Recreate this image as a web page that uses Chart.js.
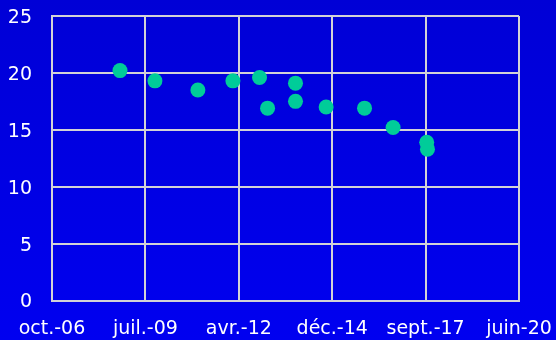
<!DOCTYPE html>
<html>
<head>
<meta charset="utf-8">
<script src="https://cdn.jsdelivr.net/npm/chart.js@4/dist/chart.umd.min.js"></script>
<style>
  html, body { margin: 0; padding: 0; background: #0000e0; }
  #wrap { width: 556px; height: 340px; position: relative; }
</style>
</head>
<body>
<div id="wrap"><canvas id="c" width="556" height="340"></canvas></div>
<script>
// Measurement dates and values
const dates = [
  "2008-10-07", "2009-10-16", "2011-01-19", "2012-01-29", "2012-11-09",
  "2013-02-03", "2013-11-29", "2013-11-29", "2014-10-23", "2015-12-08",
  "2016-10-09", "2017-10-04", "2017-10-12"
];
const values = [20.2, 19.3, 18.5, 19.3, 19.6, 16.9, 19.1, 17.5, 17.0, 16.9, 15.2, 13.9, 13.3];

// Axis range (spreadsheet day numbers) and French month abbreviations for tick labels
const xMin = 39000, xMax = 44000, xStep = 1000;
const yMin = 0, yMax = 25, yStep = 5;
const monthNames = ["janv.", "févr.", "mars", "avr.", "mai", "juin", "juil.", "août", "sept.", "oct.", "nov.", "déc."];

const EPOCH = Date.UTC(1899, 11, 30);
const DAY = 86400000;
function toSerial(iso) {
  const [y, m, d] = iso.split("-").map(Number);
  return Math.round((Date.UTC(y, m - 1, d) - EPOCH) / DAY);
}
function serialLabel(serial) {
  const dt = new Date(EPOCH + serial * DAY);
  const yy = String(dt.getUTCFullYear() % 100).padStart(2, "0");
  return monthNames[dt.getUTCMonth()] + "-" + yy;
}

const points = dates.map((d, i) => ({ x: toSerial(d), y: values[i] }));

const bgPlugin = {
  id: "bg",
  beforeDraw(chart) {
    const ctx = chart.ctx;
    const g = ctx.createLinearGradient(0, 0, 0, chart.height);
    g.addColorStop(0, "#0000d6");
    g.addColorStop(1, "#0000f0");
    ctx.save();
    ctx.fillStyle = g;
    ctx.fillRect(0, 0, chart.width, chart.height);
    ctx.restore();
  }
};

const font = { family: "'DejaVu Sans', sans-serif", size: 19 };
const gridColor = "#d2d2d6";

new Chart(document.getElementById("c"), {
  type: "scatter",
  data: {
    datasets: [{
      data: points,
      backgroundColor: "#00cc99",
      borderColor: "#00cc99",
      pointRadius: 7.5,
      pointHoverRadius: 7.5,
      borderWidth: 0
    }]
  },
  options: {
    responsive: false,
    animation: false,
    layout: { padding: { top: 16, right: 37, left: 0, bottom: 0 } },
    plugins: { legend: { display: false }, tooltip: { enabled: false } },
    scales: {
      x: {
        type: "linear",
        min: xMin, max: xMax,
        ticks: {
          stepSize: xStep,
          color: "#ffffff",
          font: font,
          padding: 17,
          maxRotation: 0,
          autoSkip: false,
          callback: v => serialLabel(v)
        },
        grid: { color: gridColor, lineWidth: 2, drawTicks: false },
        border: { color: gridColor, width: 2 },
        afterFit(s) { s.height = 39.5; s.paddingLeft = 0; s.paddingRight = 0; }
      },
      y: {
        min: yMin, max: yMax,
        ticks: {
          stepSize: yStep,
          color: "#ffffff",
          font: font,
          padding: 20,
          labelOffset: 2
        },
        grid: { color: gridColor, lineWidth: 2, drawTicks: false },
        border: { color: gridColor, width: 2 },
        afterFit(s) { s.width = 52; s.paddingTop = 0; s.paddingBottom = 0; }
      }
    }
  },
  plugins: [bgPlugin]
});
</script>
</body>
</html>
